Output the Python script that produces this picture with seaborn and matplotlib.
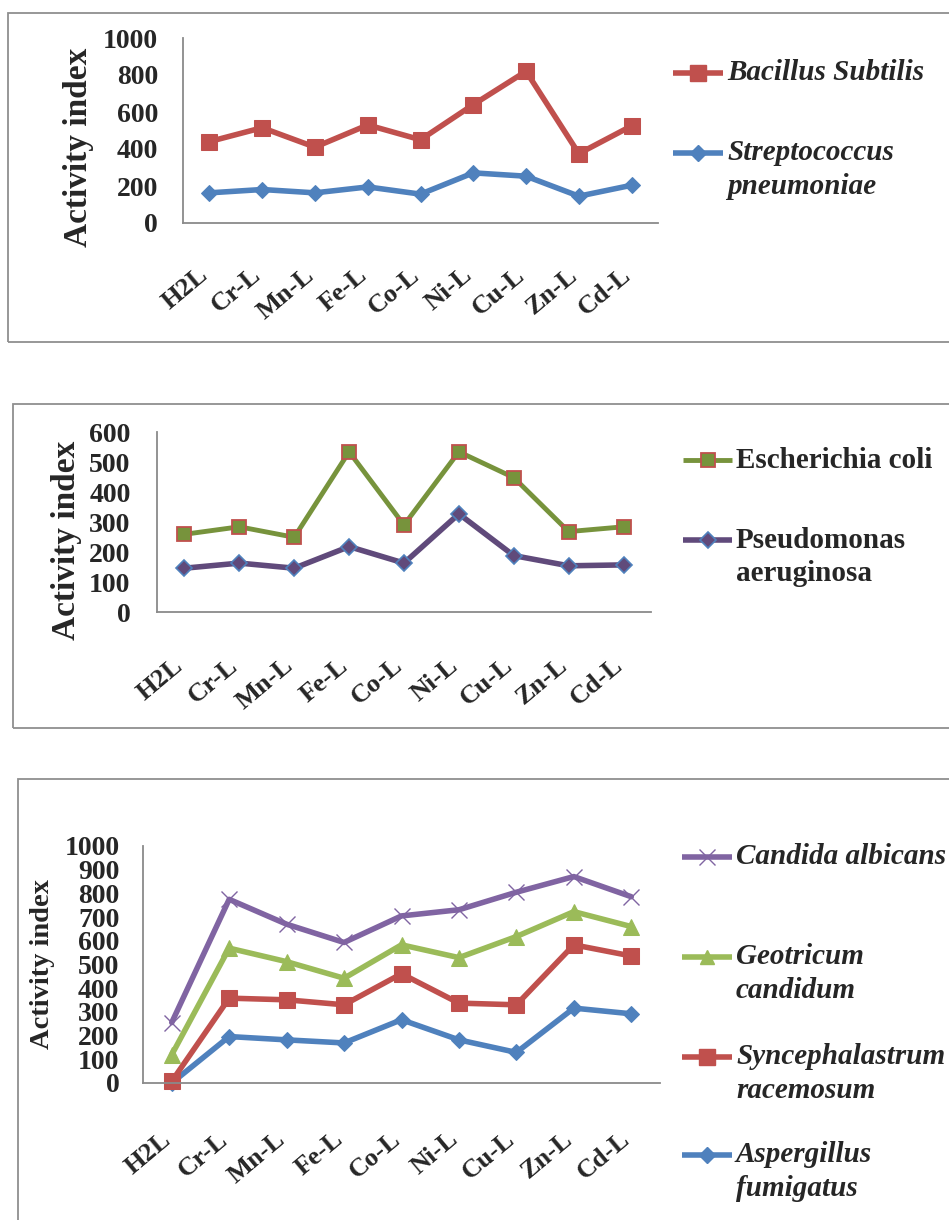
import matplotlib
matplotlib.use("Agg")
import matplotlib.pyplot as plt
from matplotlib.lines import Line2D
from matplotlib.patches import Rectangle
import seaborn as sns
import pandas as pd

# ---- data -------------------------------------------------------------
complexes = ["H2L", "Cr-L", "Mn-L", "Fe-L", "Co-L", "Ni-L", "Cu-L", "Zn-L", "Cd-L"]

# Gram-positive bacteria
bacillus_subtilis = [440, 515, 410, 530, 450, 640, 820, 375, 525]
streptococcus_pneumoniae = [163, 181, 163, 195, 156, 271, 253, 145, 204]

# Gram-negative bacteria
escherichia_coli = [259, 284, 249, 534, 290, 534, 448, 268, 284]
pseudomonas_aeruginosa = [146, 163, 146, 218, 163, 327, 188, 154, 157]

# Fungi
candida_albicans = [255, 775, 670, 593, 705, 731, 805, 871, 786]
geotricum_candidum = [119, 569, 512, 442, 583, 529, 618, 723, 660]
syncephalastrum_racemosum = [7, 358, 351, 330, 461, 337, 330, 583, 536]
aspergillus_fumigatus = [0, 196, 182, 169, 267, 182, 129, 316, 292]

# ---- style ------------------------------------------------------------
sns.set_style("white")
plt.rcParams["font.family"] = ["Liberation Serif", "DejaVu Serif"]
plt.rcParams["font.weight"] = "bold"

RED = "#C0504D"
BLUE = "#4F81BD"
OLIVE = "#77933C"
PLUM = "#604A7B"
VIOLET = "#8064A2"
LIME = "#9BBB59"
SPINE = "#8a8a8a"

W, H = 949, 1220
fig = plt.figure(figsize=(W / 100, H / 100), dpi=100)


def rect(l, t, r, b):
    return [l / W, 1 - b / H, (r - l) / W, (b - t) / H]


def frame(l, t, b):
    fig.add_artist(Rectangle((l / W, 1 - b / H), 1.2, (b - t) / H,
                             transform=fig.transFigure, fill=False,
                             edgecolor="#8f8f8f", linewidth=1.3))


def legend_entry(x0, x1, y, text, color, marker, ms, mfc, mec, mew,
                 lw, style, weight="bold", size=21, gap=34):
    fy = 1 - y / H
    fig.add_artist(Line2D([x0 / W, x1 / W], [fy, fy], transform=fig.transFigure,
                          color=color, linewidth=lw, solid_capstyle="butt"))
    fig.add_artist(Line2D([(x0 + x1) / 2 / W], [fy], transform=fig.transFigure,
                          marker=marker, markersize=ms, markerfacecolor=mfc,
                          markeredgecolor=mec, markeredgewidth=mew, linestyle="none"))
    for k, part in enumerate(text.split("\n")):
        fig.text((x1 + 4) / W, 1 - (y + k * gap) / H, part, ha="left", va="center",
                 fontsize=size, fontstyle=style, fontweight=weight)


def style_axes(ax, ymax, step, ylabel, ylab_xy, ylab_size, tick_size, ypad, xpad,
               ticks_out=False):
    ax.set_xlim(-0.5, len(complexes) - 0.5)
    ax.set_ylim(0, ymax)
    ax.set_yticks(range(0, ymax + 1, step))
    ax.set_yticklabels([str(v) for v in range(0, ymax + 1, step)],
                       fontsize=tick_size, fontweight="bold")
    ax.set_xticks(range(len(complexes)))
    ax.set_xticklabels(complexes, rotation=40, ha="right", va="baseline",
                       rotation_mode="anchor", fontsize=tick_size - 1, fontweight="bold")
    ax.set_xlabel("")
    ax.set_ylabel(ylabel, fontsize=ylab_size, fontweight="bold", va="center")
    ax.yaxis.set_label_coords(*ylab_xy)
    for s in ("top", "right"):
        ax.spines[s].set_visible(False)
    for s in ("left", "bottom"):
        ax.spines[s].set_color(SPINE)
        ax.spines[s].set_linewidth(1.3)
    if ticks_out:
        ax.tick_params(axis="y", length=7, width=1.2, color=SPINE, direction="out", pad=ypad)
        ax.set_xticks([i - 0.5 for i in range(len(complexes) + 1)], minor=True)
        ax.tick_params(axis="x", which="minor", length=7, width=1.2, color=SPINE,
                       direction="out")
        ax.tick_params(axis="x", which="major", length=0, pad=xpad)
    else:
        ax.tick_params(axis="y", length=0, pad=ypad)
        ax.tick_params(axis="x", length=0, pad=xpad)
    ax.grid(False)


# ---- panel 1: Gram-positive bacteria ---------------------------------
frame(8, 13, 342)
ax1 = fig.add_axes(rect(183, 38, 658, 223))
df1 = pd.DataFrame({"complex": complexes,
                    "Bacillus Subtilis": bacillus_subtilis,
                    "Streptococcus pneumoniae": streptococcus_pneumoniae})
sns.lineplot(data=df1, x="complex", y="Streptococcus pneumoniae", ax=ax1, sort=False,
             color=BLUE, linewidth=4, marker="D", markersize=8.5, markeredgecolor=BLUE,
             clip_on=False)
sns.lineplot(data=df1, x="complex", y="Bacillus Subtilis", ax=ax1, sort=False,
             color=RED, linewidth=4, marker="s", markersize=11.5, markeredgecolor=RED,
             clip_on=False)
style_axes(ax1, 1000, 200, "Activity index", (-0.219, 0.41), 24, 20, 18, 39)
legend_entry(673, 723, 73, "Bacillus Subtilis", RED, "s", 11.5, RED, RED, 1, 4, "italic")
legend_entry(673, 723, 153, "Streptococcus\npneumoniae", BLUE, "D", 8.5, BLUE, BLUE, 1, 4,
             "italic")

# ---- panel 2: Gram-negative bacteria ---------------------------------
frame(13, 404, 728)
ax2 = fig.add_axes(rect(157, 432, 651, 612))
df2 = pd.DataFrame({"complex": complexes,
                    "Escherichia coli": escherichia_coli,
                    "Pseudomonas aeruginosa": pseudomonas_aeruginosa})
sns.lineplot(data=df2, x="complex", y="Pseudomonas aeruginosa", ax=ax2, sort=False,
             color=PLUM, linewidth=4, marker="D", markersize=8, markeredgecolor=BLUE,
             markeredgewidth=1.2, clip_on=False)
sns.lineplot(data=df2, x="complex", y="Escherichia coli", ax=ax2, sort=False,
             color=OLIVE, linewidth=3.5, marker="s", markersize=10.5, markeredgecolor=RED,
             markeredgewidth=1.3, clip_on=False)
style_axes(ax2, 600, 100, "Activity index", (-0.184, 0.40), 24, 20, 19, 40)
legend_entry(683, 732, 460, "Escherichia coli", OLIVE, "s", 10.5, OLIVE, RED, 1.3, 3.5,
             "normal")
legend_entry(683, 732, 540, "Pseudomonas\naeruginosa", PLUM, "D", 8, PLUM, BLUE, 1.2, 4,
             "normal")

# ---- panel 3: fungi --------------------------------------------------
frame(18, 779, 1300)
ax3 = fig.add_axes(rect(143, 846, 660, 1083))
df3 = pd.DataFrame({"complex": complexes,
                    "Candida albicans": candida_albicans,
                    "Geotricum candidum": geotricum_candidum,
                    "Syncephalastrum racemosum": syncephalastrum_racemosum,
                    "Aspergillus fumigatus": aspergillus_fumigatus})
sns.lineplot(data=df3, x="complex", y="Aspergillus fumigatus", ax=ax3, sort=False,
             color=BLUE, linewidth=4, marker="D", markersize=8, markeredgecolor=BLUE,
             clip_on=False)
sns.lineplot(data=df3, x="complex", y="Syncephalastrum racemosum", ax=ax3, sort=False,
             color=RED, linewidth=4, marker="s", markersize=11, markeredgecolor=RED,
             clip_on=False)
sns.lineplot(data=df3, x="complex", y="Geotricum candidum", ax=ax3, sort=False,
             color=LIME, linewidth=4, marker="^", markersize=11, markeredgecolor=LIME,
             clip_on=False)
sns.lineplot(data=df3, x="complex", y="Candida albicans", ax=ax3, sort=False,
             color=VIOLET, linewidth=4, marker="x", markersize=11, markeredgecolor=VIOLET,
             markeredgewidth=1.0, clip_on=False)
style_axes(ax3, 1000, 100, "Activity index", (-0.195, 0.50), 20.5, 20, 10, 42,
           ticks_out=True)
legend_entry(682, 732, 857, "Candida albicans", VIOLET, "x", 11, VIOLET, VIOLET, 1.0, 4,
             "italic")
legend_entry(682, 732, 957, "Geotricum\ncandidum", LIME, "^", 10, LIME, LIME, 1, 4, "italic")
legend_entry(682, 732, 1057, "Syncephalastrum\nracemosum", RED, "s", 11, RED, RED, 1, 4,
             "italic")
legend_entry(682, 732, 1155, "Aspergillus\nfumigatus", BLUE, "D", 8, BLUE, BLUE, 1, 4,
             "italic")

fig.savefig("out.png", dpi=100, facecolor="white")
